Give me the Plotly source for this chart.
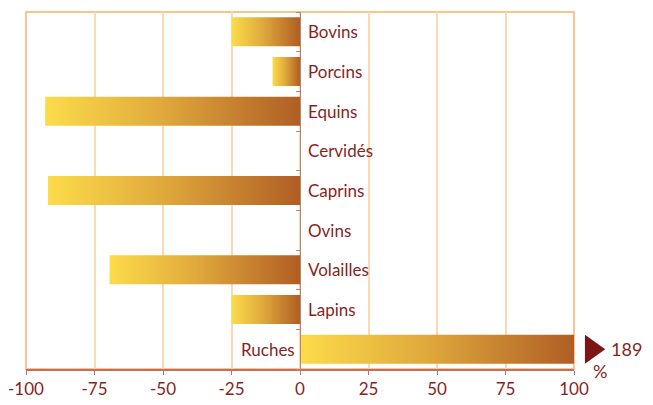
import plotly.graph_objects as go

categories = ["Bovins", "Porcins", "Equins", "Cervidés", "Caprins", "Ovins", "Volailles", "Lapins", "Ruches"]
values = [-25, -10, -93, 0, -92, 0, -69.5, -25, 189]
x_ticks = [-100, -75, -50, -25, 0, 25, 50, 75, 100]
x_max = 100

label_color = "#8a1f22"
font_family = "Lato, 'Open Sans', sans-serif"
half = 0.365

fig = go.Figure()
for i, (cat, v) in enumerate(zip(categories, values)):
    if v == 0:
        continue
    vc = max(min(v, x_max), -x_max)
    fig.add_trace(go.Scatter(
        x=[0, vc, vc, 0, 0],
        y=[i - half, i - half, i + half, i + half, i - half],
        mode="lines", fill="toself", line=dict(width=0),
        fillgradient=dict(type="horizontal",
                          colorscale=[[0, "#fcdc4a"], [0.45, "#e0aa3c"], [1, "#b05e24"]]),
        hoverinfo="skip", showlegend=False, name=cat, cliponaxis=False,
    ))

annotations = []
for i, (cat, v) in enumerate(zip(categories, values)):
    if v > 0:
        annotations.append(dict(x=0, y=i, xref="x", yref="y", text=cat, showarrow=False,
                                xanchor="right", xshift=-3, font=dict(size=17, color=label_color)))
    else:
        annotations.append(dict(x=0, y=i, xref="x", yref="y", text=cat, showarrow=False,
                                xanchor="left", xshift=6, font=dict(size=17, color=label_color)))
    if v > x_max:
        annotations.append(dict(x=1.063, y=i, xref="paper", yref="y", text=str(v),
                                showarrow=False, xanchor="left", font=dict(size=18, color=label_color)))
        annotations.append(dict(x=1.047, y=i, xref="paper", yref="y", text="%", yshift=-22,
                                showarrow=False, xanchor="center", font=dict(size=18, color=label_color)))

shapes = [
    dict(type="rect", xref="paper", yref="paper", x0=0, x1=1, y0=0, y1=1,
         line=dict(color="#fbc48f", width=2), layer="below"),
]
for i, v in enumerate(values):
    if v > x_max:
        shapes.append(dict(type="path", xref="paper", yref="y",
                           path=f"M 1.020 {i - half} L 1.057 {i} L 1.020 {i + half} Z",
                           fillcolor="#7d1416", line=dict(width=0)))

# page body has an 8px default margin; size the figure so the plot area lands where the reference has it
fig.update_layout(
    width=645, height=397,
    margin=dict(l=18, r=79, t=4, b=36, autoexpand=False),
    paper_bgcolor="white", plot_bgcolor="white",
    font=dict(family=font_family, color=label_color),
    xaxis=dict(range=[-x_max, x_max], tickvals=x_ticks, ticktext=[str(t) for t in x_ticks],
               showgrid=True, gridcolor="#fdd8b4", gridwidth=1.5, zeroline=False,
               showline=True, linecolor="#c0705c", linewidth=1.5, automargin=False,
               ticks="outside", ticklen=4, tickcolor="#c0705c",
               tickfont=dict(size=17, color=label_color)),
    yaxis=dict(range=[len(categories) - 0.5, -0.5], showgrid=False, zeroline=False,
               showticklabels=False, showline=True, linecolor="#b88474", linewidth=1,
               anchor="free", position=0.5, automargin=False,
               tickvals=[k - 0.5 for k in range(len(categories) + 1)],
               ticks="outside", ticklen=4, tickcolor="#b88474"),
    annotations=annotations, shapes=shapes,
)

fig.write_html("out.html")
